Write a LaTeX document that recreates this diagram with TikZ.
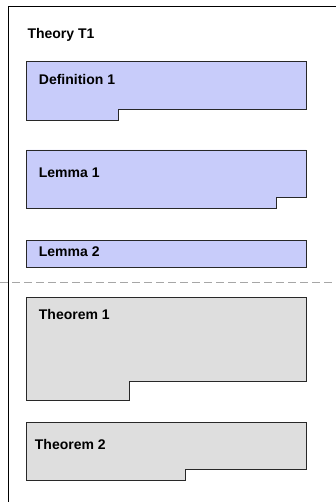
\documentclass[tikz,border=0pt]{standalone}
\usepackage{fontspec}
\setmainfont{Liberation Sans}
\definecolor{defblue}{RGB}{200,204,250}
\definecolor{thmgray}{RGB}{222,222,222}
\definecolor{edge}{RGB}{40,40,40}
\begin{document}
\begin{tikzpicture}[x=1pt,y=-1pt,
  shp/.style={draw=edge, line width=0.8pt, line join=miter},
  blueshp/.style={shp, fill=defblue},
  grayshp/.style={shp, fill=thmgray},
  lbl/.style={anchor=base west, inner sep=0pt, font=\bfseries\fontsize{14}{16}\selectfont}]
\useasboundingbox (0,0) rectangle (336,502);
\fill[white] (0,0) rectangle (336,502);
% frame (open to the right and bottom)
\draw[line width=0.9pt, black] (8,503) -- (8,6) -- (337,6);
\node[lbl] (theory) at (27.3,38.8) {Theory T1};
% separator
\draw[gray!70, line width=0.8pt, dash pattern=on 8pt off 4pt] (0,282) -- (334,282);
% Definition 1
\draw[blueshp] (26.7,61.3) -- (306,61.3) -- (306,109.3) -- (118.7,109.3) -- (118.7,120) -- (26.7,120) -- cycle;
\node[lbl] (def1) at (38.7,85) {Definition 1};
% Lemma 1
\draw[blueshp] (26.7,150) -- (306,150) -- (306,197.7) -- (276.7,197.7) -- (276.7,208.7) -- (26.7,208.7) -- cycle;
\node[lbl] (lem1) at (38.7,178) {Lemma 1};
% Lemma 2
\draw[blueshp] (26.7,240) rectangle (306,267.3);
\node[lbl] (lem2) at (38.7,256.5) {Lemma 2};
% Theorem 1
\draw[grayshp] (26.7,297.3) -- (306,297.3) -- (306,381.3) -- (129.3,381.3) -- (129.3,400) -- (26.7,400) -- cycle;
\node[lbl] (thm1) at (38.7,319) {Theorem 1};
% Theorem 2
\draw[grayshp] (26.7,422.3) -- (306,422.3) -- (306,469.3) -- (185,469.3) -- (185,480.7) -- (26.7,480.7) -- cycle;
\node[lbl] (thm2) at (34.7,449) {Theorem 2};
\end{tikzpicture}
\end{document}
